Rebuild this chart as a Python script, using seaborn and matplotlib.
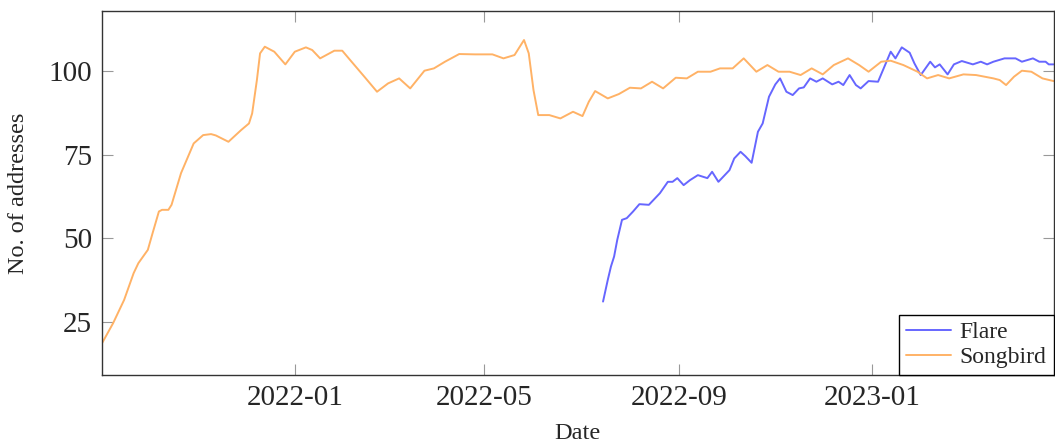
import pandas as pd
import matplotlib
matplotlib.use("Agg")
import matplotlib.pyplot as plt
import matplotlib.dates as mdates
import seaborn as sns

START = pd.Timestamp("2021-09-01")

# days since START and number of addresses
songbird_days = [0, 7, 14, 20, 23, 29, 32, 36, 38, 42, 44, 50, 58, 64, 69, 72,
                 80, 88, 93, 95, 98, 100, 103, 109, 116, 122, 129, 133, 138,
                 147, 152, 157, 166, 174, 181, 188, 195, 204, 210, 217, 226,
                 236, 247, 254, 261, 267, 270, 273, 276, 283, 290, 298, 304,
                 308, 312, 320, 327, 334, 341, 348, 355, 363, 370, 377, 385,
                 391, 399, 406, 414, 421, 428, 435, 442, 449, 456, 463, 472,
                 479, 485, 493, 499, 507, 516, 522, 529, 536, 545, 553, 564,
                 568, 572, 577, 582, 588, 595, 602]
songbird_count = [18.5, 24.5, 31.5, 39.5, 42.5, 46.5, 51.5, 58.0, 58.5, 58.5,
                  60.0, 69.5, 78.4, 80.9, 81.2, 80.8, 78.9, 82.4, 84.4, 87.4,
                  97.4, 105.4, 107.4, 105.9, 102.1, 105.9, 107.2, 106.4, 103.9,
                  106.2, 106.2, 103.4, 98.4, 93.9, 96.4, 97.9, 94.9, 100.2,
                  100.9, 102.9, 105.2, 105.1, 105.1, 103.9, 104.9, 109.4,
                  105.4, 94.4, 86.9, 86.9, 85.9, 87.9, 86.6, 90.9, 94.1, 91.9,
                  93.2, 95.1, 94.9, 96.9, 94.9, 98.1, 97.9, 99.9, 99.9, 100.9,
                  100.9, 103.9, 99.9, 101.9, 99.9, 99.9, 98.9, 100.9, 99.1,
                  101.9, 103.9, 101.9, 99.9, 102.9, 103.2, 101.9, 99.9, 97.9,
                  98.9, 97.9, 99.1, 98.9, 97.9, 97.4, 95.9, 98.4, 100.2, 99.9,
                  97.9, 97.1]

flare_days = [317, 320, 322, 324, 326, 329, 332, 336, 340, 346, 349, 353, 358,
              361, 364, 368, 372, 377, 383, 386, 390, 397, 400, 404, 407, 411,
              415, 418, 422, 426, 429, 433, 437, 441, 444, 448, 452, 456, 462,
              466, 469, 473, 477, 480, 485, 491, 495, 499, 502, 506, 511, 514,
              518, 521, 524, 527, 530, 535, 539, 544, 551, 556, 560, 564, 571,
              578, 582, 589, 593, 597, 599, 602]
flare_count = [31.0, 37.5, 41.5, 44.5, 49.5, 55.5, 56.0, 58.0, 60.2, 60.0,
               61.5, 63.5, 66.9, 66.9, 68.0, 65.9, 67.4, 68.9, 68.0, 69.9,
               66.9, 70.4, 73.9, 75.9, 74.6, 72.6, 81.9, 84.4, 92.4, 96.1,
               97.9, 93.9, 92.9, 94.9, 95.2, 97.9, 96.9, 97.9, 96.1, 96.9,
               95.9, 98.9, 95.9, 94.9, 97.1, 96.9, 101.4, 105.9, 103.9, 107.2,
               105.6, 102.4, 98.9, 100.9, 102.9, 101.2, 102.1, 99.1, 102.1,
               103.1, 102.1, 102.9, 102.1, 102.9, 103.9, 103.9, 102.9, 103.9,
               102.9, 102.9, 102.1, 102.1]

series_names = ["Flare", "Songbird"]
series_colors = ["#6666ff", "#ffb266"]
tick_dates = ["2022-01-01", "2022-05-01", "2022-09-01", "2023-01-01"]
y_ticks = [25, 50, 75, 100]

frames = []
for name, days, counts in [("Flare", flare_days, flare_count),
                           ("Songbird", songbird_days, songbird_count)]:
    frames.append(pd.DataFrame({
        "Date": START + pd.to_timedelta(days, unit="D"),
        "count": counts,
        "series": name,
    }))
df = pd.concat(frames, ignore_index=True)

sns.set_theme(style="ticks")
plt.rcParams["font.family"] = ["Liberation Serif", "DejaVu Serif"]

fig = plt.figure(figsize=(10.55, 4.44), dpi=100)
ax = fig.add_axes([102 / 1055, 1 - 375.3 / 444, (1053.5 - 102) / 1055, (375.3 - 11) / 444])

sns.lineplot(data=df, x="Date", y="count", hue="series", hue_order=series_names,
             palette=series_colors, linewidth=1.4, estimator=None, ax=ax)

ax.set_xlim(START, START + pd.Timedelta(days=602))
ax.set_ylim(8.9, 118.1)
ax.set_xticks(pd.to_datetime(tick_dates))
ax.xaxis.set_major_formatter(mdates.DateFormatter("%Y-%m"))
ax.set_yticks(y_ticks)

ax.tick_params(direction="in", length=8, width=0.8, color="#999999",
               labelsize=21, pad=7, top=True, right=True)
for s in ax.spines.values():
    s.set_color("#333333")
    s.set_linewidth(1.0)

ax.set_xlabel("Date", fontsize=17.5)
ax.set_ylabel("No. of addresses", fontsize=17.5)
ax.xaxis.set_label_coords(0.5, -0.13)
ax.yaxis.set_label_coords(-0.077, 0.5)

leg = ax.legend(loc="lower right", fontsize=17, frameon=True, fancybox=False,
                edgecolor="black", framealpha=1, borderaxespad=0,
                handlelength=1.9, handletextpad=0.35, labelspacing=0.15,
                borderpad=0.3)
leg.get_frame().set_linewidth(1.0)

fig.savefig("out.png", dpi=100)
